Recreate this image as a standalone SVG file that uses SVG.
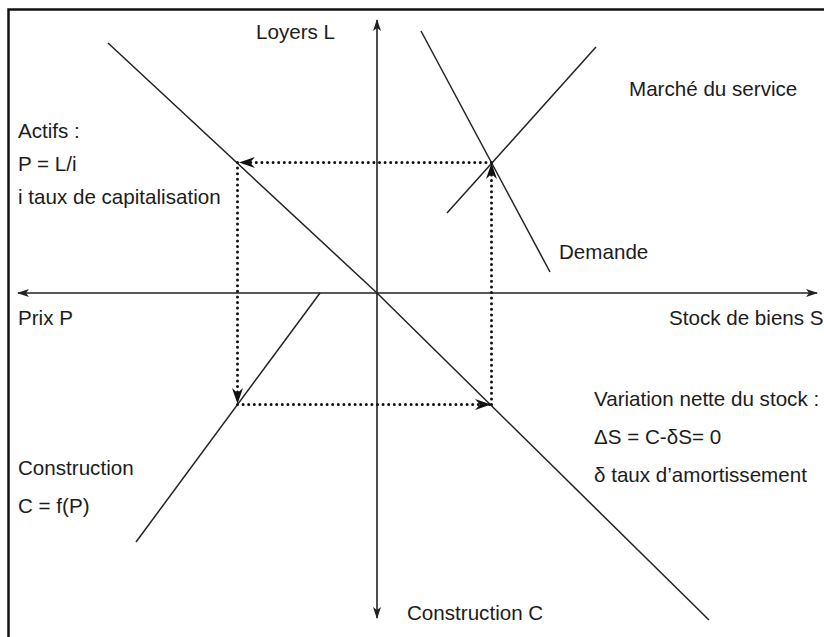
<svg xmlns="http://www.w3.org/2000/svg" width="824" height="637" viewBox="0 0 824 637">
  <style>
    .t { font-family: "Liberation Sans", Arial, sans-serif; font-size: 20.6px; fill: #1c1c1c; }
    .ln { stroke: #222; stroke-width: 1.5; fill: none; }
    .ax { stroke: #222; stroke-width: 1.6; fill: none; }
    .dot { stroke: #111; stroke-width: 3; fill: none; stroke-linecap: round; stroke-dasharray: 0 5.6; }
    .frame { stroke: #111; stroke-width: 2.5; fill: none; }
  </style>
  <defs>
    <marker id="axArrow" viewBox="0 0 12 8" refX="11" refY="4" markerWidth="12" markerHeight="8" markerUnits="userSpaceOnUse" orient="auto">
      <path d="M0,0 L12,4 L0,8 L3,4 Z" fill="#222"/>
    </marker>
    <marker id="dotArrow" viewBox="0 0 16 11" refX="15" refY="5.5" markerWidth="16" markerHeight="11" markerUnits="userSpaceOnUse" orient="auto">
      <path d="M0,0 L16,5.5 L0,11 L5,5.5 Z" fill="#111"/>
    </marker>
  </defs>
  <rect x="0" y="0" width="824" height="637" fill="#fff"/>
  <rect class="frame" x="8.5" y="9.5" width="830" height="640"/>

  <g id="axes">
    <line class="ax" x1="377" y1="293" x2="377" y2="20" marker-end="url(#axArrow)"/>
    <line class="ax" x1="377" y1="293" x2="377" y2="618" marker-end="url(#axArrow)"/>
    <line class="ax" x1="377" y1="293" x2="18" y2="293" marker-end="url(#axArrow)"/>
    <line class="ax" x1="377" y1="293" x2="817" y2="293" marker-end="url(#axArrow)"/>
  </g>

  <g id="curves">
    <polyline id="actifs-curve" class="ln" points="108,43 377,293 709,620"/>
    <line id="offre-curve" class="ln" x1="447" y1="213" x2="596" y2="47"/>
    <line id="demande-curve" class="ln" x1="421" y1="31" x2="550" y2="272"/>
    <line id="construction-curve" class="ln" x1="136" y1="542" x2="320" y2="293"/>
  </g>

  <g id="connectors">
    <line class="dot" x1="491.5" y1="162.5" x2="240" y2="162.5" marker-end="url(#dotArrow)"/>
    <line class="dot" x1="237.5" y1="162.5" x2="237.5" y2="403" marker-end="url(#dotArrow)"/>
    <line class="dot" x1="237.5" y1="404.5" x2="490" y2="404.5" marker-end="url(#dotArrow)"/>
    <line class="dot" x1="491.5" y1="404.5" x2="491.5" y2="164" marker-end="url(#dotArrow)"/>
  </g>

  <g id="label-loyers"><text class="t" x="256" y="39">Loyers L</text></g>
  <g id="label-actifs">
    <text class="t" x="18" y="138">Actifs :</text>
    <text class="t" x="18" y="171">P = L/i</text>
    <text class="t" x="18" y="204">i taux de capitalisation</text>
  </g>
  <g id="label-marche"><text class="t" x="629" y="96">Marché du service</text></g>
  <g id="label-demande"><text class="t" x="559" y="259">Demande</text></g>
  <g id="label-prix"><text class="t" x="18" y="325">Prix P</text></g>
  <g id="label-stock"><text class="t" x="669" y="325">Stock de biens S</text></g>
  <g id="label-variation">
    <text class="t" x="594" y="406">Variation nette du stock :</text>
    <text class="t" x="594" y="444">ΔS = C-δS= 0</text>
    <text class="t" x="594" y="482">δ taux d’amortissement</text>
  </g>
  <g id="label-construction">
    <text class="t" x="18" y="475">Construction</text>
    <text class="t" x="18" y="513">C = f(P)</text>
  </g>
  <g id="label-construction-c"><text class="t" x="407" y="620">Construction C</text></g>
</svg>
